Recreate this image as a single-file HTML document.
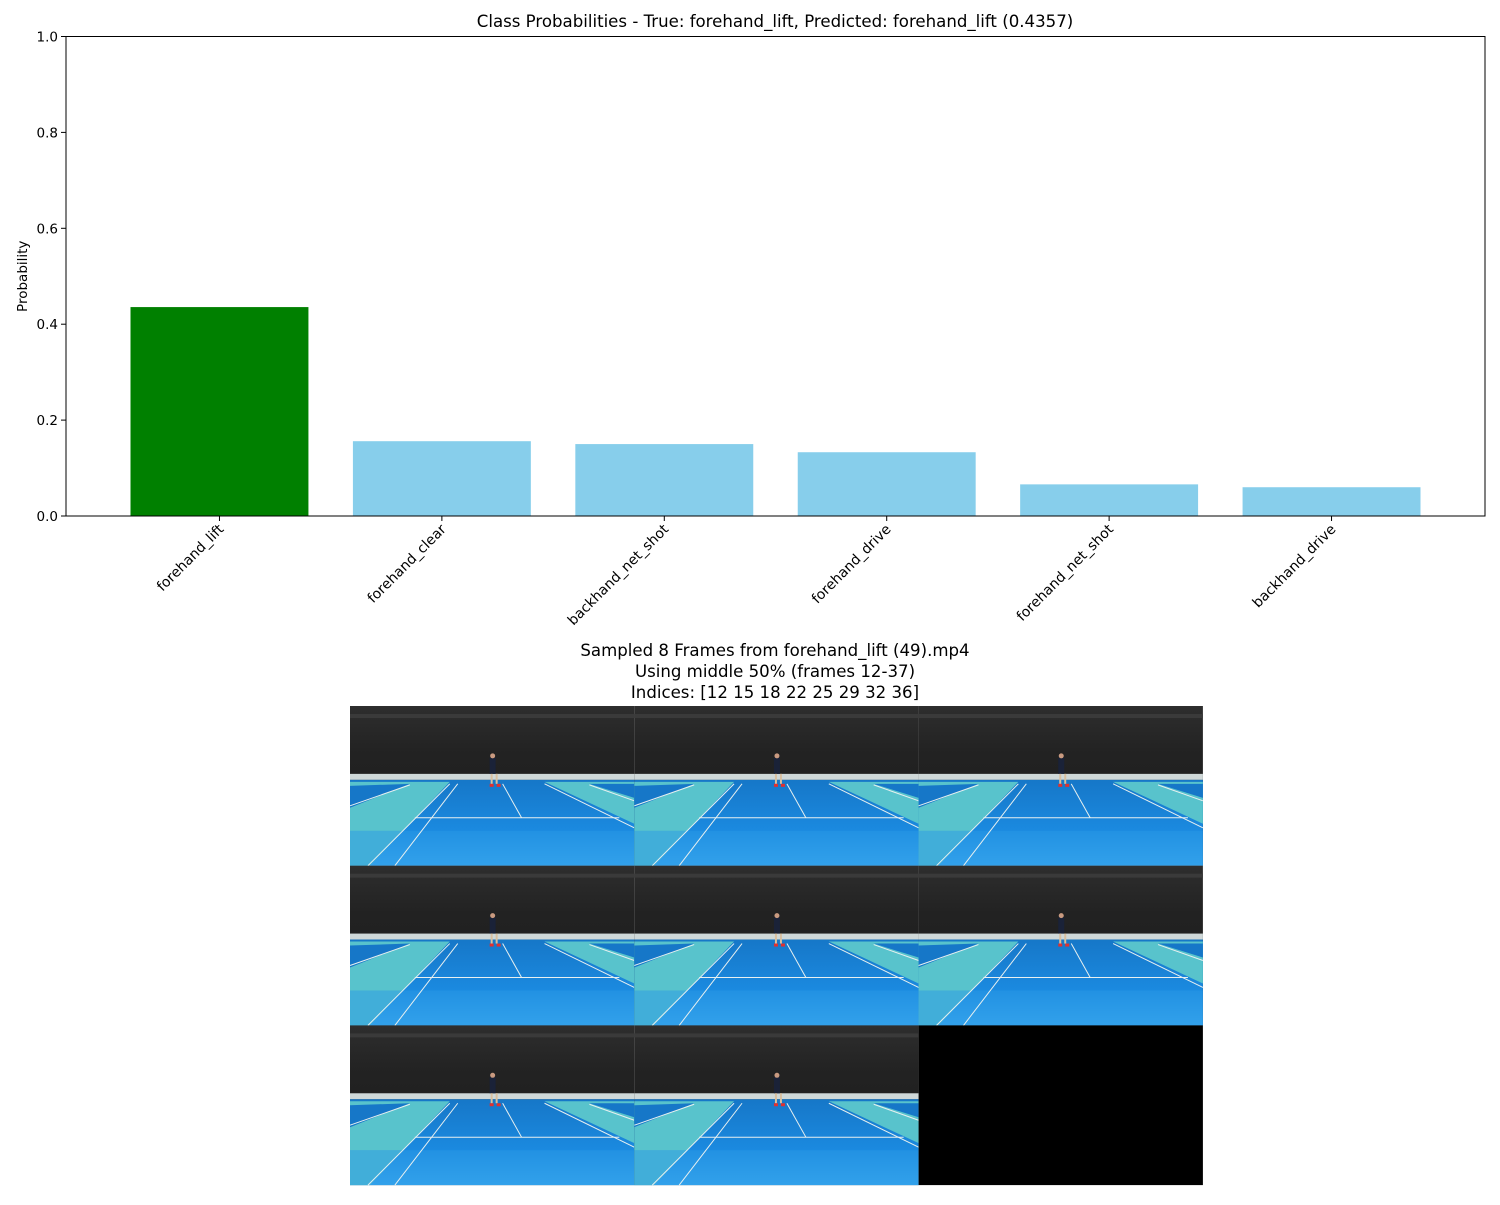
<!DOCTYPE html>
<html><head><meta charset="utf-8">
<style>
html,body{margin:0;padding:0;background:#fff;}
body{width:1500px;height:1200px;overflow:hidden;font-family:"Liberation Sans","DejaVu Sans",sans-serif;}
svg text{font-family:"DejaVu Sans","Liberation Sans",sans-serif;fill:#000;}
</style></head>
<body>
<svg id="fig" width="1500" height="1200" viewBox="0 0 1500 1200" xmlns="http://www.w3.org/2000/svg">
<defs>
  <linearGradient id="curtain" x1="0" y1="0" x2="0" y2="1">
    <stop offset="0" stop-color="#2e2e2e"/><stop offset="0.3" stop-color="#222"/><stop offset="1" stop-color="#1c1c1c"/>
  </linearGradient>
  <linearGradient id="floor" x1="0" y1="0" x2="0" y2="1">
    <stop offset="0" stop-color="#1677c8"/><stop offset="0.6" stop-color="#1b8ae0"/><stop offset="1" stop-color="#3aa8f0"/>
  </linearGradient>
  <g id="frame">
    <rect x="0" y="0" width="285" height="160" fill="url(#curtain)"/>
    <rect x="0" y="8" width="285" height="4" fill="#3a3a3a"/>
    <rect x="0" y="68" width="285" height="6" fill="#cfd8d8"/>
    <rect x="0" y="74" width="285" height="86" fill="url(#floor)"/>
    <polygon points="0,76 100,76 20,160 0,160" fill="#58c3cc"/>
    <polygon points="0,80 60,78 0,102" fill="#1677c8"/>
    <polygon points="195,76 285,76 285,118" fill="#58c3cc"/>
    <polygon points="240,78 285,78 285,92" fill="#1677c8"/>
    <polygon points="0,125 285,125 285,160 0,160" fill="#2a9ae6" opacity="0.5"/>
    <g stroke="#e8f0f0" stroke-width="1" fill="none">
      <line x1="100" y1="78" x2="18" y2="160"/><line x1="108" y1="78" x2="45" y2="160"/>
      <line x1="153" y1="78" x2="172" y2="112"/>
      <line x1="195" y1="78" x2="285" y2="122"/>
      <line x1="65" y1="112" x2="270" y2="112"/>
      <line x1="0" y1="100" x2="60" y2="79"/>
      <line x1="240" y1="79" x2="285" y2="95"/>
    </g>
    <rect x="140" y="52" width="6" height="16" fill="#1a2238"/>
    <rect x="141" y="68" width="2" height="10" fill="#d9c0a0"/>
    <rect x="146" y="68" width="2" height="10" fill="#d9c0a0"/>
    <circle cx="143" cy="50" r="2.5" fill="#c99a80"/>
    <rect x="140" y="78" width="4" height="3" fill="#e03030"/><rect x="147" y="78" width="4" height="3" fill="#e03030"/>
  </g>
</defs>

<text x="775" y="27" font-size="16.6" text-anchor="middle">Class Probabilities - True: forehand_lift, Predicted: forehand_lift (0.4357)</text>
<g id="plot"></g>

<text x="775" y="656" font-size="16.6" text-anchor="middle">Sampled 8 Frames from forehand_lift (49).mp4</text>
<text x="775" y="677" font-size="16.6" text-anchor="middle">Using middle 50% (frames 12-37)</text>
<text x="775" y="698" font-size="16.6" text-anchor="middle">Indices: [12 15 18 22 25 29 32 36]</text>
<g id="frames"></g>
</svg>
<script>
const categories = ["forehand_lift","forehand_clear","backhand_net_shot","forehand_drive","forehand_net_shot","backhand_drive"];
const probabilities = [0.4357, 0.156, 0.150, 0.133, 0.066, 0.060];
const yTicks = [0.0, 0.2, 0.4, 0.6, 0.8, 1.0];
const frameCount = 8;

const NS = "http://www.w3.org/2000/svg";
const L = 66, R = 1485, T = 36.5, B = 516;
const xmin = -0.69, xmax = categories.length - 1 + 0.69;
const xs = v => L + (v - xmin) / (xmax - xmin) * (R - L);
const ys = v => B - v * (B - T);
function mk(tag, attrs, parent) {
  const e = document.createElementNS(NS, tag);
  for (const k in attrs) e.setAttribute(k, attrs[k]);
  parent.appendChild(e); return e;
}
const plot = document.getElementById("plot");
const maxIdx = probabilities.indexOf(Math.max(...probabilities));
probabilities.forEach((p, i) => {
  const r = mk("rect", {x: xs(i - 0.4), y: ys(p), width: xs(i + 0.4) - xs(i - 0.4), height: ys(0) - ys(p), fill: i === maxIdx ? "#008000" : "#87ceeb"}, plot);
  
  
  const t = mk("line", {x1: xs(i), x2: xs(i), y1: B, y2: B + 5, stroke: "#000", "stroke-width": 1}, plot);
  
  
  const lb = mk("text", {x: 0, y: 0, "font-size": 14, "text-anchor": "end", transform: `translate(${xs(i) + 5},${B + 14}) rotate(-45)`}, plot);
  lb.textContent = categories[i];
  
  
});
yTicks.forEach(v => {
  const t = mk("line", {x1: L - 5, x2: L, y1: ys(v), y2: ys(v), stroke: "#000", "stroke-width": 1}, plot);
  
  
  const lb = mk("text", {x: L - 8, y: ys(v) + 5, "font-size": 13.5, "text-anchor": "end"}, plot);
  lb.textContent = v.toFixed(1);
  
  
});
const fr = mk("rect", {x: L, y: T, width: R - L, height: B - T, fill: "none", stroke: "#000", "stroke-width": 1}, plot);


const yl = mk("text", {x: 0, y: 0, "font-size": 13.5, "text-anchor": "middle", transform: `translate(27,${(T + B) / 2}) rotate(-90)`}, plot);
yl.textContent = "Probability";



const frames = document.getElementById("frames");
const GX = 350, GY = 706, TW = 284.3, TH = 159.7;
for (let k = 0; k < 9; k++) {
  const c = k % 3, r = Math.floor(k / 3);
  if (k < frameCount) {
    const u = mk("use", {href: "#frame", transform: `translate(${GX + c * TW},${GY + r * TH}) scale(${TW / 285},${TH / 160})`}, frames);
    
    
  } else {
    const b = mk("rect", {x: GX + c * TW, y: GY + r * TH, width: TW, height: TH, fill: "#000"}, frames);
    
    
  }
}
</script>
</body></html>
